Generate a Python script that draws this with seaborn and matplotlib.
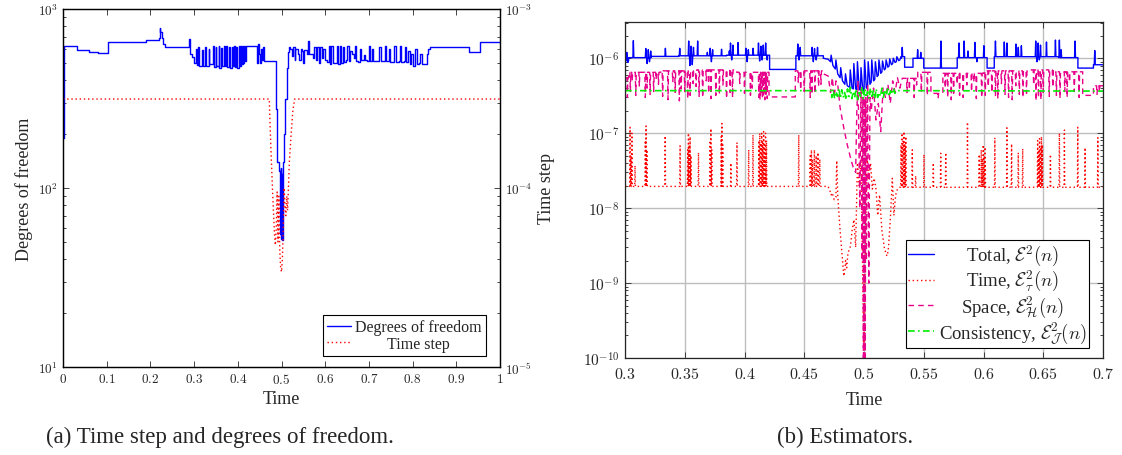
import numpy as np
import pandas as pd
import matplotlib
matplotlib.use('Agg')
import matplotlib.pyplot as plt
import seaborn as sns
from matplotlib.ticker import LogLocator, NullFormatter, FuncFormatter, FixedLocator

# ---------------- (a) degrees of freedom and time step ----------------
# degrees of freedom, drawn as steps
dof_head_t = [0.000, 0.002, 0.033, 0.060, 0.080, 0.103, 0.150, 0.190, 0.219, 0.221,
              0.223, 0.226, 0.229, 0.234, 0.289, 0.291, 0.296]
dof_head_v = [190, 622, 590, 578, 570, 650, 650, 668, 690, 780,
              740, 690, 640, 612, 680, 560, 540]
dof_osc1_t = [0.300, 0.304, 0.306, 0.309, 0.311, 0.318, 0.320, 0.326, 0.328, 0.333,
              0.335, 0.343, 0.345, 0.349, 0.351, 0.356, 0.358, 0.362, 0.364, 0.368,
              0.370, 0.374, 0.376, 0.380, 0.382, 0.386, 0.388, 0.391, 0.393, 0.397,
              0.399, 0.402, 0.404, 0.407, 0.409, 0.411, 0.413, 0.415, 0.417, 0.419]
dof_osc1_v = [500, 600, 485, 610, 480, 590, 478, 615, 482, 600,
              490, 620, 475, 612, 480, 620, 470, 605, 478, 618,
              482, 622, 476, 610, 470, 616, 480, 620, 474, 612,
              468, 622, 480, 618, 490, 622, 500, 622, 510, 622]
dof_dip_t = [0.421, 0.444, 0.446, 0.448, 0.450, 0.452, 0.455, 0.457, 0.460, 0.488,
             0.490, 0.494, 0.496, 0.498, 0.499, 0.501, 0.502, 0.504, 0.506, 0.508,
             0.512, 0.514, 0.518]
dof_dip_v = [622, 500, 640, 560, 500, 600, 520, 610, 515, 276,
             140, 125, 55, 130, 52, 120, 51, 140, 200, 314,
             470, 575, 610]
dof_osc2_t = [0.520, 0.524, 0.526, 0.530, 0.532, 0.538, 0.540, 0.545, 0.548, 0.550,
              0.552, 0.558, 0.560, 0.562, 0.568, 0.572, 0.575, 0.578, 0.582, 0.585,
              0.589, 0.592, 0.596, 0.600, 0.604, 0.608, 0.611, 0.614, 0.617, 0.622,
              0.626, 0.629, 0.633, 0.636, 0.640, 0.643, 0.648, 0.651, 0.654, 0.657,
              0.662, 0.665, 0.668, 0.671, 0.676, 0.680, 0.683, 0.688, 0.692, 0.696,
              0.700, 0.703, 0.707, 0.710, 0.720, 0.724, 0.727, 0.733, 0.737, 0.740,
              0.745, 0.748, 0.755, 0.758, 0.761, 0.768, 0.771, 0.774, 0.780, 0.783,
              0.786, 0.790, 0.793, 0.797, 0.800, 0.806, 0.809, 0.814, 0.818, 0.821,
              0.829, 0.833, 0.836]
dof_osc2_v = [600, 545, 610, 520, 600, 560, 520, 600, 580, 500,
              590, 560, 660, 560, 560, 530, 612, 520, 612, 500,
              610, 530, 600, 520, 505, 620, 495, 622, 500, 500,
              622, 495, 620, 500, 610, 505, 520, 622, 510, 580,
              560, 530, 620, 510, 505, 600, 520, 555, 520, 510,
              620, 510, 600, 515, 515, 610, 512, 512, 622, 510,
              600, 505, 505, 620, 508, 515, 620, 505, 510, 612,
              505, 580, 495, 560, 480, 600, 490, 500, 560, 490,
              490, 560, 600]
dof_tail_t = [0.840, 0.930, 0.955, 1.000]
dof_tail_v = [610, 575, 650, 650]

# time step
dt_t = [0.000, 0.472, 0.473, 0.476, 0.480, 0.484, 0.486, 0.488, 0.490, 0.492,
        0.494, 0.496, 0.498, 0.500, 0.502, 0.504, 0.506, 0.508, 0.510, 0.512,
        0.514, 0.518, 0.522, 0.526, 0.530, 1.000]
dt_v = [3.14e-4, 3.14e-4, 2.6e-4, 1.6e-4, 0.9e-4, 0.55e-4, 0.48e-4, 0.6e-4, 0.95e-4, 0.5e-4,
        0.9e-4, 0.45e-4, 0.36e-4, 0.34e-4, 0.4e-4, 0.6e-4, 1.0e-4, 0.8e-4, 0.7e-4, 0.9e-4,
        0.75e-4, 1.4e-4, 2.0e-4, 2.7e-4, 3.14e-4, 3.14e-4]

# ---------------- (b) estimators ----------------
# total estimator: flat levels, short spikes, and the dip near t = 0.5
total_seg_t0 = [0.300, 0.303, 0.322, 0.345, 0.385, 0.421, 0.443, 0.531, 0.534, 0.541,
                0.550, 0.578, 0.603, 0.609, 0.663, 0.679, 0.692]
total_seg_t1 = [0.303, 0.322, 0.345, 0.385, 0.421, 0.443, 0.466, 0.534, 0.541, 0.550,
                0.578, 0.603, 0.609, 0.663, 0.679, 0.692, 0.700]
total_seg_v = [0.93e-6, 1.02e-6, 1.06e-6, 1.08e-6, 1.10e-6, 0.71e-6, 1.08e-6, 1.05e-6, 0.76e-6, 1.00e-6,
               0.74e-6, 1.02e-6, 0.74e-6, 1.05e-6, 1.02e-6, 0.74e-6, 0.82e-6]
total_spike_t = [0.3015, 0.3024, 0.3070, 0.3174, 0.3185, 0.3195, 0.3205, 0.3215, 0.3338, 0.3458,
                 0.3533, 0.3543, 0.3553, 0.3563, 0.3573, 0.3608, 0.3689, 0.3713, 0.3723, 0.3733,
                 0.3808, 0.3873, 0.3883, 0.3893, 0.3903, 0.3946, 0.4012, 0.4022, 0.4032, 0.4072,
                 0.4117, 0.4127, 0.4137, 0.4147, 0.4157, 0.4177, 0.4190, 0.4446, 0.4456, 0.4466,
                 0.4566, 0.4576, 0.4586, 0.4600, 0.4611, 0.5320, 0.5449, 0.5475, 0.5644, 0.5795,
                 0.5838, 0.5870, 0.5928, 0.5945, 0.6003, 0.6100, 0.6174, 0.6196, 0.6272, 0.6291,
                 0.6317, 0.6437, 0.6447, 0.6457, 0.6467, 0.6477, 0.6527, 0.6602, 0.6635, 0.6650,
                 0.6766, 0.6931]
total_spike_v = [1.20e-6, 0.88e-6, 1.72e-6, 1.35e-6, 0.85e-6, 1.30e-6, 0.90e-6, 1.25e-6, 1.36e-6, 1.36e-6,
                 1.70e-6, 0.80e-6, 1.45e-6, 0.82e-6, 1.40e-6, 1.70e-6, 1.20e-6, 1.36e-6, 0.90e-6, 1.30e-6,
                 1.32e-6, 1.25e-6, 1.60e-6, 0.95e-6, 1.50e-6, 1.62e-6, 1.36e-6, 0.90e-6, 1.30e-6, 1.36e-6,
                 1.60e-6, 0.92e-6, 1.45e-6, 0.95e-6, 1.50e-6, 1.60e-6, 0.95e-6, 1.55e-6, 0.95e-6, 1.40e-6,
                 1.40e-6, 0.90e-6, 1.35e-6, 0.95e-6, 1.40e-6, 1.40e-6, 1.30e-6, 1.20e-6, 1.70e-6, 1.60e-6,
                 1.70e-6, 1.25e-6, 1.63e-6, 0.90e-6, 1.47e-6, 1.70e-6, 1.65e-6, 1.60e-6, 1.55e-6, 1.40e-6,
                 1.47e-6, 1.70e-6, 0.90e-6, 1.60e-6, 0.95e-6, 1.50e-6, 1.65e-6, 1.75e-6, 1.75e-6, 1.30e-6,
                 1.70e-6, 1.27e-6]
total_dip_t = [0.466, 0.470, 0.472, 0.4725, 0.474, 0.476, 0.4765, 0.478, 0.480, 0.4805,
               0.482, 0.484, 0.4845, 0.486, 0.488, 0.4885, 0.490, 0.491, 0.4915, 0.493,
               0.494, 0.4945, 0.496, 0.497, 0.4975, 0.499, 0.500, 0.5005, 0.502, 0.503,
               0.5035, 0.505, 0.506, 0.5065, 0.508, 0.509, 0.5095, 0.511, 0.512, 0.5125,
               0.514, 0.515, 0.5155, 0.517, 0.518, 0.5185, 0.520, 0.521, 0.5215, 0.523,
               0.524, 0.5245, 0.526, 0.527, 0.5275, 0.529, 0.530, 0.531]
total_dip_v = [1.00e-6, 0.97e-6, 0.90e-6, 1.10e-6, 0.80e-6, 0.72e-6, 0.95e-6, 0.62e-6, 0.55e-6, 0.75e-6,
               0.50e-6, 0.45e-6, 0.62e-6, 0.43e-6, 0.41e-6, 0.70e-6, 0.40e-6, 0.39e-6, 0.85e-6, 0.39e-6,
               0.38e-6, 0.90e-6, 0.38e-6, 0.38e-6, 0.75e-6, 0.37e-6, 0.37e-6, 0.95e-6, 0.40e-6, 0.42e-6,
               0.90e-6, 0.45e-6, 0.48e-6, 0.95e-6, 0.50e-6, 0.52e-6, 0.90e-6, 0.57e-6, 0.60e-6, 0.95e-6,
               0.63e-6, 0.66e-6, 0.92e-6, 0.70e-6, 0.73e-6, 0.95e-6, 0.76e-6, 0.79e-6, 0.98e-6, 0.82e-6,
               0.85e-6, 1.00e-6, 0.88e-6, 0.90e-6, 1.05e-6, 0.93e-6, 0.95e-6, 1.00e-6]

# time estimator
time_seg_t0 = [0.300, 0.530]
time_seg_t1 = [0.470, 0.700]
time_seg_v = [1.95e-8, 1.90e-8]
time_spike_t = [0.3042, 0.3050, 0.3058, 0.3084, 0.3170, 0.3176, 0.3183, 0.3336, 0.3461, 0.3525,
                0.3531, 0.3538, 0.3545, 0.3552, 0.3615, 0.3712, 0.3719, 0.3726, 0.3805, 0.3811,
                0.3818, 0.3886, 0.3937, 0.4035, 0.4071, 0.4120, 0.4128, 0.4136, 0.4144, 0.4152,
                0.4160, 0.4168, 0.4176, 0.4184, 0.4454, 0.4550, 0.4560, 0.4570, 0.4585, 0.4600,
                0.4615, 0.4630,
                0.5310, 0.5318, 0.5326, 0.5334, 0.5342, 0.5350, 0.5404, 0.5432, 0.5502, 0.5580,
                0.5642, 0.5684, 0.5866, 0.5964, 0.5981, 0.5990, 0.5998, 0.6006, 0.6014, 0.6095,
                0.6196, 0.6235, 0.6291, 0.6328, 0.6453, 0.6461, 0.6469, 0.6477, 0.6485, 0.6493,
                0.6560, 0.6635, 0.6677, 0.6789, 0.6850, 0.6957]
time_spike_v = [1.2e-7, 5e-8, 1.0e-7, 3.7e-8, 8e-8, 1.25e-7, 6e-8, 9.2e-8, 6.8e-8, 6e-8,
                1.0e-7, 7e-8, 9e-8, 5e-8, 5.5e-8, 8e-8, 1.15e-7, 6e-8, 9e-8, 1.35e-7,
                7e-8, 4e-8, 7.5e-8, 6e-8, 9.5e-8, 8e-8, 1.0e-7, 7e-8, 1.0e-7, 8e-8,
                1.05e-7, 7e-8, 1.0e-7, 8e-8, 9.5e-8, 5e-8, 6e-8, 4.5e-8, 6e-8, 5e-8,
                5.5e-8, 4.5e-8,
                7e-8, 1.0e-7, 8e-8, 1.05e-7, 7e-8, 9e-8, 6e-8, 2.7e-8, 5.2e-8, 4e-8,
                5.4e-8, 5.5e-8, 1.4e-7, 5.2e-8, 6e-8, 4.5e-8, 7e-8, 5e-8, 6.5e-8, 8.7e-8,
                1.18e-7, 7.2e-8, 5.5e-8, 6.2e-8, 8e-8, 6e-8, 8.5e-8, 6.5e-8, 9e-8, 7e-8,
                5.2e-8, 1.0e-7, 1.1e-7, 1.2e-7, 6.4e-8, 8.7e-8]
time_dip_t = [0.4700, 0.4715, 0.4725, 0.4735, 0.4750, 0.4765, 0.4772, 0.4780, 0.4800, 0.4815,
              0.4831, 0.4840, 0.4846, 0.4855, 0.4865, 0.4875, 0.4887, 0.4900, 0.4916, 0.4930,
              0.4945, 0.4960, 0.4975, 0.4990, 0.5000, 0.5010, 0.5025, 0.5040, 0.5055, 0.5070,
              0.5085, 0.5100, 0.5115, 0.5130, 0.5150, 0.5170, 0.5185, 0.5195, 0.5205, 0.5220,
              0.5237, 0.5250, 0.5265, 0.5280, 0.5300]
time_dip_v = [1.95e-8, 1.7e-8, 1.5e-8, 1.6e-8, 1.3e-8, 1.4e-8, 4.3e-8, 1.5e-8, 5e-9, 2.5e-9,
              1.24e-9, 1.5e-9, 2.0e-9, 1.6e-9, 2.4e-9, 2.8e-9, 3.1e-9, 5e-9, 7e-9, 3e-9,
              4e-8, 2e-8, 4.5e-8, 1e-9, 6e-11, 2e-9, 5e-8, 2.5e-8, 4e-8, 1.8e-8,
              2.5e-8, 1.8e-8, 8e-9, 1.5e-8, 5e-9, 3e-9, 2.4e-9, 2.3e-9, 3e-9, 7e-9,
              2.5e-8, 8e-9, 1.5e-8, 1.8e-8, 1.9e-8]

# space estimator (spikes point downwards)
space_seg_t0 = [0.300, 0.303, 0.330, 0.360, 0.3935, 0.4205, 0.4425, 0.532, 0.545, 0.556,
                0.566, 0.600, 0.640, 0.660, 0.683, 0.692]
space_seg_t1 = [0.303, 0.330, 0.360, 0.3935, 0.4205, 0.4425, 0.466, 0.545, 0.556, 0.566,
                0.600, 0.640, 0.660, 0.683, 0.692, 0.700]
space_seg_v = [5.5e-7, 6.5e-7, 6.8e-7, 7.0e-7, 6.5e-7, 3.05e-7, 6.8e-7, 5.4e-7, 6.5e-7, 3.4e-7,
               6.3e-7, 6.8e-7, 7.0e-7, 6.6e-7, 3.2e-7, 4.3e-7]
space_spike_t = [0.3020, 0.3045, 0.3060, 0.3090, 0.3120, 0.3170, 0.3185, 0.3210, 0.3240, 0.3260,
                 0.3280, 0.3315, 0.3360, 0.3400, 0.3420, 0.3455, 0.3470, 0.3500, 0.3525, 0.3545,
                 0.3570, 0.3595, 0.3620, 0.3650, 0.3680, 0.3700, 0.3720, 0.3760, 0.3790, 0.3820,
                 0.3850, 0.3880, 0.3900, 0.3960, 0.4000, 0.4050, 0.4065, 0.4120, 0.4130, 0.4140,
                 0.4150, 0.4160, 0.4170, 0.4180, 0.4190, 0.4450, 0.4470, 0.4500, 0.4550, 0.4565,
                 0.4590, 0.4620, 0.4640,
                 0.5360, 0.5380, 0.5420, 0.5440, 0.5480, 0.5530, 0.5620, 0.5680, 0.5700, 0.5730,
                 0.5750, 0.5780, 0.5800, 0.5830, 0.5860, 0.5900, 0.5920, 0.5940, 0.5985, 0.6015,
                 0.6040, 0.6070, 0.6100, 0.6120, 0.6150, 0.6180, 0.6210, 0.6240, 0.6270, 0.6300,
                 0.6330, 0.6360, 0.6420, 0.6440, 0.6460, 0.6480, 0.6500, 0.6550, 0.6580, 0.6610,
                 0.6640, 0.6680, 0.6700, 0.6720, 0.6760, 0.6800, 0.6950, 0.6970]
space_spike_v = [3.0e-7, 3.6e-7, 5.0e-7, 3.2e-7, 4.2e-7, 3.0e-7, 4.0e-7, 3.3e-7, 3.6e-7, 5.2e-7,
                 4.5e-7, 3.1e-7, 2.8e-7, 4.8e-7, 3.5e-7, 2.7e-7, 3.9e-7, 3.6e-7, 2.9e-7, 3.2e-7,
                 4.6e-7, 4.2e-7, 3.1e-7, 3.0e-7, 5.0e-7, 3.4e-7, 2.9e-7, 3.2e-7, 3.3e-7, 4.4e-7,
                 2.9e-7, 3.5e-7, 3.0e-7, 4.6e-7, 3.4e-7, 3.2e-7, 4.0e-7, 3.0e-7, 2.8e-7, 3.3e-7,
                 2.9e-7, 3.1e-7, 2.8e-7, 3.3e-7, 2.9e-7, 4.8e-7, 3.8e-7, 3.6e-7, 3.0e-7, 3.3e-7,
                 3.4e-7, 4.2e-7, 4.5e-7,
                 3.5e-7, 3.8e-7, 3.0e-7, 4.4e-7, 3.5e-7, 3.2e-7, 2.9e-7, 4.0e-7, 3.0e-7, 2.8e-7,
                 3.4e-7, 4.5e-7, 3.2e-7, 3.0e-7, 4.4e-7, 3.6e-7, 4.8e-7, 2.9e-7, 3.0e-7, 3.2e-7,
                 4.2e-7, 3.5e-7, 3.1e-7, 2.9e-7, 4.6e-7, 3.3e-7, 3.0e-7, 2.8e-7, 4.3e-7, 3.3e-7,
                 3.0e-7, 3.4e-7, 4.4e-7, 2.7e-7, 3.0e-7, 2.8e-7, 3.5e-7, 3.1e-7, 4.1e-7, 3.2e-7,
                 2.9e-7, 3.6e-7, 3.0e-7, 4.8e-7, 3.6e-7, 3.0e-7, 3.3e-7, 3.6e-7]
space_dip_t = [0.4660, 0.4700, 0.4720, 0.4735, 0.4750, 0.4765, 0.4780, 0.4800, 0.4830, 0.4860,
               0.4890, 0.4910, 0.4930, 0.4940, 0.4950, 0.4965, 0.4975, 0.4985, 0.4990, 0.4995,
               0.5000, 0.5003, 0.5006, 0.5010, 0.5015, 0.5020, 0.5030, 0.5040, 0.5050, 0.5060,
               0.5080, 0.5100, 0.5120, 0.5140, 0.5160, 0.5180, 0.5200, 0.5220, 0.5240, 0.5260,
               0.5280, 0.5300, 0.5320]
space_dip_v = [6.2e-7, 5.8e-7, 3.5e-7, 5.5e-7, 3.0e-7, 5.0e-7, 4.5e-7, 2.2e-7, 1.2e-7, 7.0e-8,
               4.5e-8, 3.5e-8, 3.0e-8, 2.0e-7, 5.0e-7, 1.0e-8, 4.0e-7, 2.0e-9, 3.0e-7, 5.0e-11,
               3.0e-7, 5.0e-11, 2.5e-7, 5.0e-11, 3.0e-7, 2.0e-9, 4.5e-7, 1.0e-9, 3.0e-7, 2.0e-7,
               4.0e-7, 1.5e-7, 2.5e-7, 1.05e-7, 4.0e-7, 3.0e-7, 4.5e-7, 2.5e-7, 5.0e-7, 3.5e-7,
               5.5e-7, 4.0e-7, 5.4e-7]

# consistency estimator
cons_seg_t0 = [0.300, 0.527]
cons_seg_t1 = [0.473, 0.700]
cons_seg_v = [3.70e-7, 3.65e-7]
cons_dip_t = [0.4730, 0.4742, 0.4754, 0.4766, 0.4778, 0.4790, 0.4802, 0.4814, 0.4826, 0.4838,
              0.4850, 0.4862, 0.4874, 0.4886, 0.4898, 0.4910, 0.4922, 0.4934, 0.4946, 0.4958,
              0.4970, 0.4982, 0.4994, 0.5006, 0.5018, 0.5030, 0.5042, 0.5054, 0.5066, 0.5078,
              0.5090, 0.5102, 0.5114, 0.5126, 0.5138, 0.5150, 0.5162, 0.5174, 0.5186, 0.5198,
              0.5210, 0.5222, 0.5234, 0.5246, 0.5258, 0.5270]
cons_dip_v = [3.0e-7, 3.9e-7, 2.9e-7, 3.6e-7, 3.1e-7, 4.0e-7, 2.9e-7, 3.8e-7, 3.0e-7, 3.5e-7,
              2.8e-7, 3.9e-7, 3.1e-7, 4.1e-7, 2.9e-7, 3.6e-7, 3.0e-7, 3.9e-7, 2.8e-7, 3.7e-7,
              3.1e-7, 4.2e-7, 2.9e-7, 3.8e-7, 3.0e-7, 3.6e-7, 2.9e-7, 4.0e-7, 3.1e-7, 3.7e-7,
              2.9e-7, 3.9e-7, 3.0e-7, 3.5e-7, 3.1e-7, 4.0e-7, 3.0e-7, 3.8e-7, 3.2e-7, 3.9e-7,
              3.1e-7, 3.7e-7, 3.3e-7, 4.0e-7, 3.4e-7, 3.7e-7]


def build(seg_t0, seg_t1, seg_v, spk_t=(), spk_v=(), pts_t=(), pts_v=(), w=0.0004):
    # join flat levels, spikes and explicit points into one time-ordered line
    rows = []
    for a, b, v in zip(seg_t0, seg_t1, seg_v):
        rows.append((a, v))
        for t, p in zip(spk_t, spk_v):
            if a < t < b:
                rows += [(t - w, v), (t, p), (t + w, v)]
        rows.append((b, v))
    rows += list(zip(pts_t, pts_v))
    rows.sort(key=lambda r: r[0])
    return pd.DataFrame(rows, columns=['t', 'v'])


dof = pd.DataFrame({'t': dof_head_t + dof_osc1_t + dof_dip_t + dof_osc2_t + dof_tail_t,
                    'v': dof_head_v + dof_osc1_v + dof_dip_v + dof_osc2_v + dof_tail_v})
dt = pd.DataFrame({'t': dt_t, 'v': dt_v})
total = build(total_seg_t0, total_seg_t1, total_seg_v, total_spike_t, total_spike_v,
              total_dip_t, total_dip_v)
timee = build(time_seg_t0, time_seg_t1, time_seg_v, time_spike_t, time_spike_v,
              time_dip_t, time_dip_v, w=0.0003)
space = build(space_seg_t0, space_seg_t1, space_seg_v, space_spike_t, space_spike_v,
              space_dip_t, space_dip_v)
cons = build(cons_seg_t0, cons_seg_t1, cons_seg_v, pts_t=cons_dip_t, pts_v=cons_dip_v)

# style
sns.set_style('ticks')
plt.rcParams['font.family'] = ['Liberation Serif', 'DejaVu Serif']
plt.rcParams['mathtext.fontset'] = 'cm'
plt.rcParams['axes.linewidth'] = 0.9

BLUE = '#0000ff'
RED = '#ff0000'
PINK = '#e8008a'
GREEN = '#00ee00'


def pow_label(v, pos):
    return '$10^{%d}$' % int(round(np.log10(v)))


def num_label(v, pos):
    return '$%s$' % ('%g' % round(v, 3))


def log_axis(axis):
    axis.set_major_locator(LogLocator(base=10, numticks=20))
    axis.set_minor_locator(LogLocator(base=10, subs=np.arange(2, 10), numticks=20))
    axis.set_major_formatter(FuncFormatter(pow_label))
    axis.set_minor_formatter(NullFormatter())


def center_texts(fig, leg):
    # pgfplots centres legend entries; shift the shorter ones to the middle
    fig.canvas.draw()
    r = fig.canvas.get_renderer()
    texts = leg.get_texts()
    widths = [t.get_window_extent(r).width for t in texts]
    wmax = max(widths)
    for t, w in zip(texts, widths):
        t.set_position(((wmax - w) / 2, 0))


fig = plt.figure(figsize=(11.22, 4.56), dpi=100)

# ----- left panel -----
ax = fig.add_axes([63 / 1122, 88 / 456, 437 / 1122, 358 / 456])
ax2 = ax.twinx()
ax.set_yscale('log')
ax2.set_yscale('log')

sns.lineplot(data=dof, x='t', y='v', ax=ax, sort=False, estimator=None, legend=False,
             color=BLUE, lw=1.0, drawstyle='steps-post')
h_dof = ax.lines[-1]
sns.lineplot(data=dt, x='t', y='v', ax=ax2, sort=False, estimator=None, legend=False,
             color=RED, lw=1.0, linestyle=(0, (1, 2)))
h_dt = ax2.lines[-1]

ax.set_xlim(0, 1)
ax.set_ylim(10, 1000)
ax2.set_ylim(1e-5, 1e-3)
log_axis(ax.yaxis)
log_axis(ax2.yaxis)
ax.xaxis.set_major_locator(FixedLocator([0, 0.1, 0.2, 0.3, 0.4, 0.5, 0.6, 0.7, 0.8, 0.9, 1.0]))
ax.xaxis.set_major_formatter(FuncFormatter(num_label))
ax.tick_params(which='both', direction='in', top=True, right=False, labelsize=9.5, width=0.6)
ax.tick_params(which='major', length=4)
ax.tick_params(which='minor', length=2)
ax2.tick_params(which='both', direction='in', labelsize=9.5, width=0.6)
ax2.tick_params(which='major', length=4)
ax2.tick_params(which='minor', length=2)
ax.set_xlabel('Time', fontsize=13, labelpad=3)
ax.set_ylabel('Degrees of freedom', fontsize=13, labelpad=4)
ax2.set_ylabel('Time step', fontsize=13, labelpad=4)
for s in ax2.spines.values():
    s.set_color('black')

leg = ax2.legend([h_dof, h_dt], ['Degrees of freedom', 'Time step'],
                 loc='lower right', bbox_to_anchor=(0.968, 0.031), borderaxespad=0,
                 fontsize=11.5, frameon=True, fancybox=False, framealpha=1,
                 edgecolor='black', handlelength=1.5, handletextpad=0.3,
                 labelspacing=0.05, borderpad=0.25)
leg.get_frame().set_linewidth(0.8)

# ----- right panel -----
bx = fig.add_axes([625 / 1122, 97 / 456, 478 / 1122, 336 / 456])
bx.set_yscale('log')
bx.grid(True, which='major', color='#bdbdbd', lw=1.0)
bx.set_axisbelow(True)

sns.lineplot(data=total, x='t', y='v', ax=bx, sort=False, estimator=None, legend=False,
             color=BLUE, lw=1.0)
h_total = bx.lines[-1]
sns.lineplot(data=timee, x='t', y='v', ax=bx, sort=False, estimator=None, legend=False,
             color=RED, lw=1.0, linestyle=(0, (1, 2)))
h_time = bx.lines[-1]
sns.lineplot(data=space, x='t', y='v', ax=bx, sort=False, estimator=None, legend=False,
             color=PINK, lw=1.0, linestyle=(0, (4, 3)))
h_space = bx.lines[-1]
sns.lineplot(data=cons, x='t', y='v', ax=bx, sort=False, estimator=None, legend=False,
             color=GREEN, lw=1.2, linestyle=(0, (4, 2, 1, 2)))
h_cons = bx.lines[-1]

bx.set_xlim(0.3, 0.7)
bx.set_ylim(1e-10, 3.05e-6)
log_axis(bx.yaxis)
bx.xaxis.set_major_locator(FixedLocator([0.3, 0.35, 0.4, 0.45, 0.5, 0.55, 0.6, 0.65, 0.7]))
bx.xaxis.set_major_formatter(FuncFormatter(num_label))
bx.tick_params(which='both', direction='in', top=True, right=True, width=0.6)
bx.tick_params(axis='x', labelsize=11.5, pad=6)
bx.tick_params(axis='y', labelsize=11, pad=4)
bx.tick_params(which='major', length=4)
bx.tick_params(which='minor', length=2)
bx.set_xlabel('Time', fontsize=13, labelpad=6)
bx.set_ylabel('')

leg2 = bx.legend([h_total, h_time, h_space, h_cons],
                 [r'Total, $\mathcal{E}^2(n)$', r'Time, $\mathcal{E}_\tau^2(n)$',
                  r'Space, $\mathcal{E}_\mathcal{H}^2(n)$',
                  r'Consistency, $\mathcal{E}_\mathcal{J}^2(n)$'],
                 loc='lower right', bbox_to_anchor=(0.971, 0.030), borderaxespad=0,
                 fontsize=13.5, frameon=True, fancybox=False, framealpha=1,
                 edgecolor='black', handlelength=1.4, handletextpad=0.25,
                 labelspacing=0.02, borderpad=0.12)
leg2.get_frame().set_linewidth(0.8)

# captions
fig.text(220 / 1122, 1 - 437 / 456, '(a) Time step and degrees of freedom.',
         ha='center', va='center', fontsize=16.5)
fig.text(845 / 1122, 1 - 437 / 456, '(b) Estimators.', ha='center', va='center', fontsize=16.5)

center_texts(fig, leg)
center_texts(fig, leg2)

fig.savefig('out.png', dpi=100)
